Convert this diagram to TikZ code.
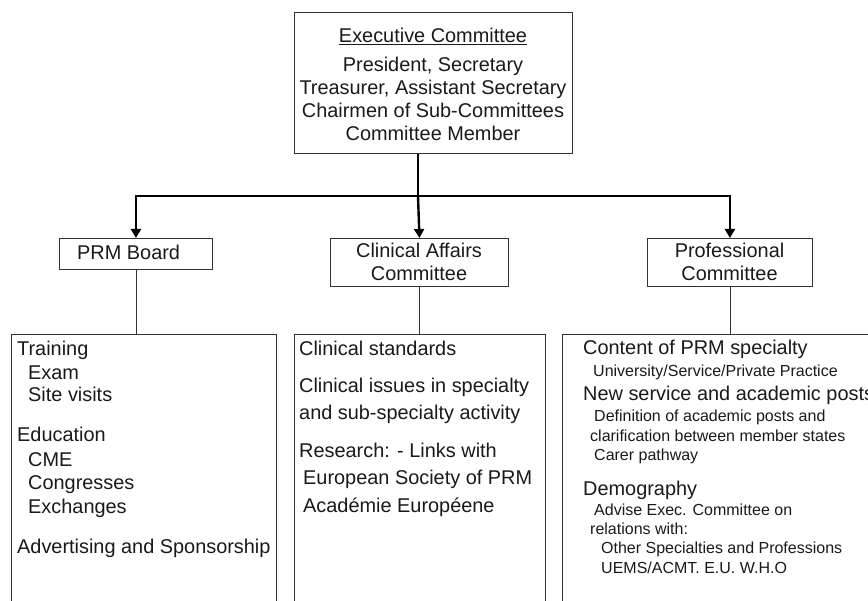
\documentclass[tikz,border=0pt]{standalone}
\usepackage{fontspec}
\setmainfont{Liberation Sans}
\usetikzlibrary{arrows.meta}
\definecolor{ink}{HTML}{1A1A1A}
\definecolor{edge}{HTML}{333333}
\newcommand{\bigtxt}{\fontsize{19.9}{23}\selectfont}
\newcommand{\smalltxt}{\fontsize{16}{19}\selectfont}
\tikzset{
  box/.style={draw=edge, line width=0.9pt, inner sep=0pt, fill=white},
  ln/.style={anchor=base west, inner sep=0pt, text=ink, font=\bigtxt},
  sm/.style={anchor=base west, inner sep=0pt, text=ink, font=\smalltxt},
  cl/.style={anchor=base, inner sep=0pt, text=ink, font=\bigtxt},
  feed/.style={line width=2.4pt, black},
  feedarrow/.style={line width=2.4pt, black, -{Triangle[length=9pt,width=10pt]}},
  thinlink/.style={line width=0.9pt, edge}
}
\begin{document}
\begin{tikzpicture}[x=1pt,y=-1pt]
\useasboundingbox (0,0) rectangle (868,601);
\clip (0,0) rectangle (868,601);
% executive committee
\node[box, minimum width=278pt, minimum height=141pt, anchor=north west] (exec) at (294,12) {};
\node[cl] (e1) at (433,43) {\underline{Executive Committee}};
\node[cl] (e2) at (433,71.5) {President, Secretary};
\node[cl] (e3) at (433,94.5) {Treasurer, Assistant Secretary};
\node[cl] (e4) at (433,117.5) {Chairmen of Sub-Committees};
\node[cl] (e5) at (433,140.5) {Committee Member};
% sub-committee boxes
\node[box, minimum width=153pt, minimum height=31pt, anchor=north west] (prm) at (59,238) {};
\node[ln] (prmt) at (77,260) {PRM Board};
\node[box, minimum width=178pt, minimum height=48pt, anchor=north west] (cac) at (330,238) {};
\node[cl] (cac1) at (419,257.5) {Clinical Affairs};
\node[cl] (cac2) at (419,281) {Committee};
\node[box, minimum width=165pt, minimum height=48pt, anchor=north west] (pc) at (647,238) {};
\node[cl] (pc1) at (729.5,257.5) {Professional};
\node[cl] (pc2) at (729.5,281) {Committee};
% connectors
\coordinate (j) at (418,196);
\draw[feed] (j |- exec.south) -- (j);
\draw[feedarrow] (j) -| (prm.north);
\draw[feedarrow] (j) -- (cac.north);
\draw[feedarrow] (j) -| (pc.north);
% detail boxes
\node[box, minimum width=265pt, minimum height=300pt, anchor=north west] (lb) at (11,334) {};
\node[box, minimum width=251pt, minimum height=300pt, anchor=north west] (mb) at (294,334) {};
\node[box, minimum width=330pt, minimum height=300pt, anchor=north west] (rb) at (562,334) {};
\draw[thinlink] (prm.south) -- (prm.south |- lb.north);
\draw[thinlink] (cac.south) -- (cac.south |- mb.north);
\draw[thinlink] (pc.south) -- (pc.south |- rb.north);
% left texts
\node[ln] (l1) at (17,356) {Training};
\node[ln] (l2) at (28,379.5) {Exam};
\node[ln] (l3) at (28,402) {Site visits};
\node[ln] (l4) at (17,442) {Education};
\node[ln] (l5) at (28,466.5) {CME};
\node[ln] (l6) at (28,489.5) {Congresses};
\node[ln] (l7) at (28,514) {Exchanges};
\node[ln] (l8) at (17,553) {Advertising and Sponsorship};
% middle texts
\node[ln] (m1) at (299,356) {Clinical standards};
\node[ln] (m2) at (299,393) {Clinical issues in specialty};
\node[ln] (m3) at (299,420) {and sub-specialty activity};
\node[ln] (m4) at (299,458) {Research: - Links with};
\node[ln] (m5) at (303,485) {European Society of PRM};
\node[ln] (m6) at (303,513) {Académie Européene};
% right texts
\node[ln] (r1) at (583,355) {Content of PRM specialty};
\node[sm] (r2) at (593,376.5) {University/Service/Private Practice};
\node[ln] (r3) at (583,401) {New service and academic posts};
\node[sm] (r4) at (594,422) {Definition of academic posts and};
\node[sm] (r5) at (590,441.5) {clarification between member states};
\node[sm] (r6) at (594,461) {Carer pathway};
\node[ln] (r7) at (583,496) {Demography};
\node[sm] (r8) at (594,515) {Advise Exec. Committee on};
\node[sm] (r9) at (590,534) {relations with:};
\node[sm] (r10) at (601,554) {Other Specialties and Professions};
\node[sm] (r11) at (601,573) {UEMS/ACMT. E.U. W.H.O};
\end{tikzpicture}
\end{document}
